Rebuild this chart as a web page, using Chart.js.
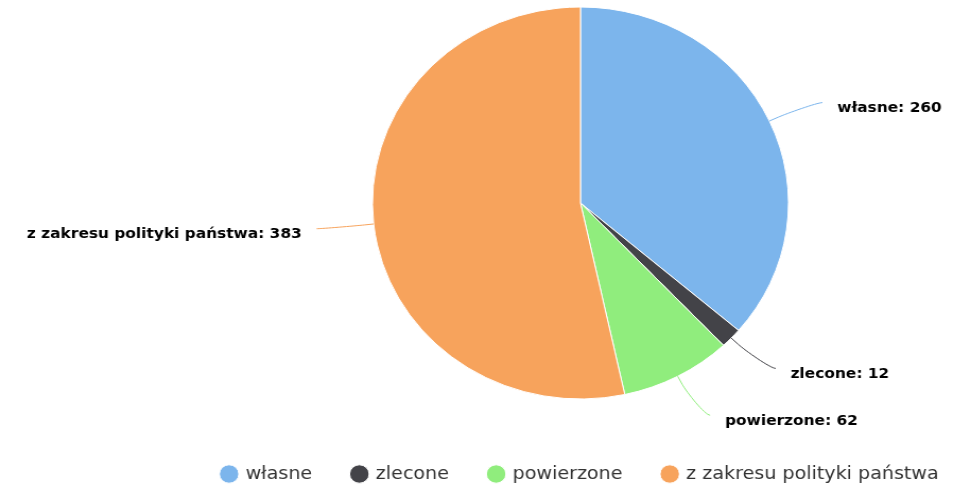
<!DOCTYPE html>
<html>
<head>
<meta charset="utf-8">
<script src="https://cdn.jsdelivr.net/npm/chart.js@4.4.0/dist/chart.umd.min.js"></script>
<style>
  html, body { margin: 0; padding: 0; background: #fff; overflow: hidden; }
  body { width: 971px; height: 486px; position: relative; }
  /* source picture is stretched horizontally, so the chart is drawn narrower and scaled;
     canvas is wider than the page so pie + legend centre lands at x=547 (before scaling) */
  #wrap { position: absolute; left: 0; top: -21px; width: 1094px; height: 514px; transform: scaleX(1.0612); transform-origin: 0 0; }
</style>
</head>
<body>
<div id="wrap"><canvas id="pie"></canvas></div>
<script>
const categories = ['własne', 'zlecone', 'powierzone', 'z zakresu polityki państwa'];
const values = [260, 12, 62, 383];
const colors = ['#7cb5ec', '#434348', '#90ed7d', '#f7a35c'];

// outside labels with soft connectors, drawn from the arc elements
const outerLabels = {
  id: 'outerLabels',
  afterDatasetsDraw(chart) {
    const ctx = chart.ctx;
    const meta = chart.getDatasetMeta(0);
    ctx.save();
    ctx.font = 'bold 14.5px "DejaVu Sans"';
    ctx.textBaseline = 'middle';
    meta.data.forEach((arc, i) => {
      const { x, y, startAngle, endAngle, outerRadius } =
        arc.getProps(['x', 'y', 'startAngle', 'endAngle', 'outerRadius'], true);
      const mid = (startAngle + endAngle) / 2;
      const cos = Math.cos(mid), sin = Math.sin(mid);
      const left = cos < 0;
      const dir = left ? -1 : 1;
      const R = outerRadius + 44;
      const ax = x + R * cos, ay = y + R * sin;
      const tx = x + outerRadius * cos, ty = y + outerRadius * sin;
      const bx = x + (outerRadius + 9) * cos, by = y + (outerRadius + 9) * sin;
      const ex = ax + dir * 10, ey = ay;

      ctx.beginPath();
      ctx.moveTo(ex, ey);
      ctx.bezierCurveTo(ex - dir * 5, ey, 2 * bx - tx, 2 * by - ty, bx, by);
      ctx.lineTo(tx, ty);
      ctx.strokeStyle = colors[i];
      ctx.lineWidth = 1;
      ctx.stroke();

      ctx.fillStyle = '#000000';
      ctx.textAlign = left ? 'right' : 'left';
      ctx.fillText(`${categories[i]}: ${values[i]}`, ax + dir * 24, ay + 6);
    });
    ctx.restore();
  }
};

new Chart(document.getElementById('pie'), {
  type: 'pie',
  data: {
    labels: categories,
    datasets: [{
      data: values,
      backgroundColor: colors,
      borderColor: '#ffffff',
      borderWidth: 1,
      hoverOffset: 0,
      radius: 196
    }]
  },
  options: {
    responsive: true,
    maintainAspectRatio: false,
    animation: false,
    layout: { padding: 0 },
    plugins: {
      legend: {
        position: 'bottom',
        labels: {
          usePointStyle: true,
          pointStyle: 'circle',
          boxWidth: 13,
          boxHeight: 13,
          padding: 38,
          color: '#333333',
          font: { family: 'DejaVu Sans', size: 18 }
        }
      },
      tooltip: { enabled: false }
    }
  },
  plugins: [outerLabels]
});
</script>
</body>
</html>
